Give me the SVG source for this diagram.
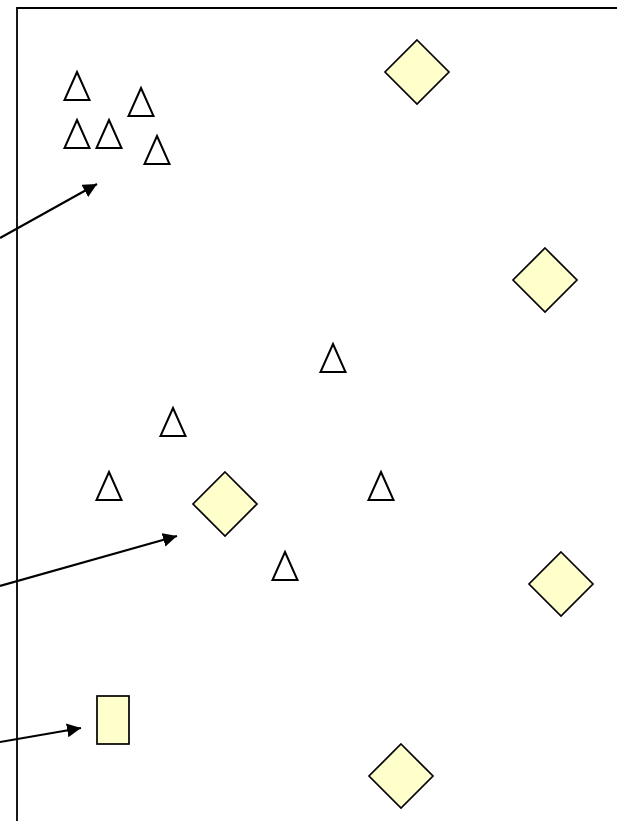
<svg xmlns="http://www.w3.org/2000/svg" width="617" height="821" viewBox="0 0 617 821">
<defs>
<style>
.frame{fill:none;stroke:#000;stroke-width:1.8}
.tri{fill:none;stroke:#000;stroke-width:2;stroke-linejoin:miter}
.dia{fill:#FFFFCC;stroke:#000;stroke-width:1.7;stroke-linejoin:miter}
.edge{fill:none;stroke:#000;stroke-width:2.2}
</style>
<marker id="ah" markerUnits="userSpaceOnUse" markerWidth="16" markerHeight="14" refX="14" refY="7" orient="auto">
<path d="M0,0 L14,7 L0,14 Z" fill="#000"/>
</marker>
<polygon id="triShape" points="0,0 12.5,28 -12.5,28"/>
</defs>
<rect width="617" height="821" fill="#fff"/>
<path class="frame" d="M17,821 L17,8 L617,8"/>
<g id="t1" class="tri"><use href="#triShape" x="77" y="72"/></g>
<g id="t2" class="tri"><use href="#triShape" x="141" y="88"/></g>
<g id="t3" class="tri"><use href="#triShape" x="77" y="120"/></g>
<g id="t4" class="tri"><use href="#triShape" x="109" y="120"/></g>
<g id="t5" class="tri"><use href="#triShape" x="157" y="136"/></g>
<g id="t6" class="tri"><use href="#triShape" x="333" y="344"/></g>
<g id="t7" class="tri"><use href="#triShape" x="173" y="408"/></g>
<g id="t8" class="tri"><use href="#triShape" x="109" y="472"/></g>
<g id="t9" class="tri"><use href="#triShape" x="381" y="472"/></g>
<g id="t10" class="tri"><use href="#triShape" x="285" y="552"/></g>
<g id="d1"><polygon class="dia" points="417,40 449,72 417,104 385,72"/></g>
<g id="d2"><polygon class="dia" points="545,248 577,280 545,312 513,280"/></g>
<g id="d3"><polygon class="dia" points="225,472 257,504 225,536 193,504"/></g>
<g id="d4"><polygon class="dia" points="561,552 593,584 561,616 529,584"/></g>
<g id="d5"><polygon class="dia" points="401,744 433,776 401,808 369,776"/></g>
<g id="r1"><rect class="dia" x="97" y="696" width="32" height="48"/></g>
<g id="connectors">
<line class="edge" x1="0" y1="238" x2="97" y2="184" marker-end="url(#ah)"/>
<line class="edge" x1="0" y1="586" x2="177" y2="536" marker-end="url(#ah)"/>
<line class="edge" x1="0" y1="742" x2="81" y2="728" marker-end="url(#ah)"/>
</g>
</svg>
